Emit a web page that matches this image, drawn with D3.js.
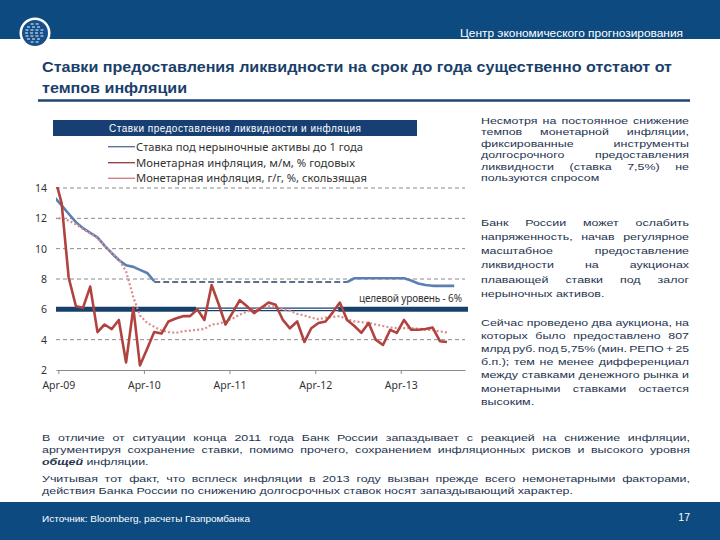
<!DOCTYPE html>
<html>
<head>
<meta charset="utf-8">
<script src="https://cdn.jsdelivr.net/npm/d3@7"></script>
<style>
html, body { margin: 0; padding: 0; background: #fff; }
svg { display: block; }
.body-text { font-family: "Liberation Sans", Arial, sans-serif; font-size: 11px; fill: #25344f; }
.chart-text { font-family: "Noto Sans", "Open Sans", sans-serif; fill: #333; }
</style>
</head>
<body>
<svg id="slide" width="720" height="540"></svg>
<script>
// месяцы данных (значение месяца ставится на середину месяца)
const firstMonth = new Date(2009, 2, 1);   // март 2009
const lastMonth = new Date(2013, 10, 1);   // ноябрь 2013
const months = d3.timeMonth.range(firstMonth, d3.timeMonth.offset(lastMonth, 1));

const tickDates = [new Date(2009, 3, 1), new Date(2010, 3, 1), new Date(2011, 3, 1), new Date(2012, 3, 1), new Date(2013, 3, 1)];
const tickLabels = ["Apr-09", "Apr-10", "Apr-11", "Apr-12", "Apr-13"];
const yTicks = [2, 4, 6, 8, 10, 12, 14];

// ставка под нерыночные активы до 1 года (сплошная часть)
const rateSolid = [13.4, 12.85, 12.3, 11.75, 11.35, 11.05, 10.75, 10.2, 9.7, 9.25, 8.9, 8.8, 8.6, 8.4, 7.85,
  null, null, null, null, null, null, null, null, null, null, null, null, null,
  null, null, null, null, null, null, null, null, null, null, null, null, null,
  7.8, 8.05, 8.05, 8.05, 8.05, 8.05, 8.05, 8.05, 8.05, 7.9, 7.7, 7.6, 7.55, 7.55, 7.55, 7.55];
// та же ставка в период без аукционов (пунктир)
const rateDashed = [null, null, null, null, null, null, null, null, null, null, null, null, null, null,
  7.8, 7.8, 7.8, 7.8, 7.8, 7.8, 7.8, 7.8, 7.8, 7.8, 7.8, 7.8, 7.8, 7.8,
  7.8, 7.8, 7.8, 7.8, 7.8, 7.8, 7.8, 7.8, 7.8, 7.8, 7.8, 7.8, 7.8, 7.8,
  null, null, null, null, null, null, null, null, null, null, null, null, null, null, null];
// монетарная инфляция, м/м, % годовых
const inflMoM = [14.8, 13.0, 8.1, 6.2, 6.1, 7.5, 4.5, 5.0, 4.7, 5.3, 2.5, 6.1, 2.3, 3.4, 4.5, 4.4, 5.2, 5.4, 5.55, 5.55,
  6.0, 5.3, 7.6, 6.3, 5.0, 5.8, 6.6, 6.2, 5.75, 6.1, 6.45, 6.3, 5.3, 4.75, 5.2, 3.85, 4.75, 5.1, 5.2, 5.8,
  6.45, 5.3, 4.9, 4.45, 5.1, 4.0, 3.65, 4.65, 4.45, 5.3, 4.65, 4.65, 4.7, 4.8, 3.9, 3.85, null];
// монетарная инфляция, г/г, %, скользящая
const inflYoY = [12.0, 12.0, 11.85, 11.6, 11.3, 11.0, 10.7, 10.2, 9.7, 9.3, 8.5, 6.8, 5.6, 5.1, 4.85, 4.6, 4.5, 4.45, 4.55, 4.6,
  4.65, 4.7, 5.0, 5.05, 5.2, 5.4, 5.65, 5.85, 6.0, 6.1, 6.2, 6.15, 6.0, 5.9, 5.7, 5.6, 5.45, 5.35, 5.45, 5.5,
  5.55, 5.35, 5.2, 5.15, 5.1, 5.0, 4.9, 4.8, 4.77, 4.76, 4.76, 4.72, 4.67, 4.62, 4.55, 4.47, null];

// целевой уровень
const targetLevel = 6;
const targetHollow = [new Date(2010, 10, 10), new Date(2012, 6, 8)];

const legendNames = [
  "Ставка под нерыночные активы до 1 года",
  "Монетарная инфляция, м/м, % годовых",
  "Монетарная инфляция, г/г, %, скользящая"
];

const titleLines = [
  "Ставки предоставления ликвидности на срок до года существенно отстают от",
  "темпов инфляции"
];

const sideParagraphs = [
  ["Несмотря на постоянное снижение", "темпов монетарной инфляции,", "фиксированные инструменты",
   "долгосрочного предоставления", "ликвидности (ставка 7,5%) не", "пользуются спросом"],
  ["Банк России может ослабить", "напряженность, начав регулярное", "масштабное предоставление",
   "ликвидности на аукционах", "плавающей ставки под залог", "нерыночных активов."],
  ["Сейчас проведено два аукциона, на", "которых было предоставлено 807", "млрд руб. под 5,75% (мин. РЕПО + 25",
   "б.п.); тем не менее дифференциал", "между ставками денежного рынка и", "монетарными ставками остается", "высоким."]
];

const bottomParagraphs = [
  ["В отличие от ситуации конца 2011 года Банк России запаздывает с реакцией на снижение инфляции,",
   "аргументируя сохранение ставки, помимо прочего, сохранением инфляционных рисков и высокого уровня",
   "*общей* инфляции."],
  ["Учитывая тот факт, что всплеск инфляции в 2013 году вызван прежде всего немонетарными факторами,",
   "действия Банка России по снижению долгосрочных ставок носят запаздывающий характер."]
];

const navy = "#0c4a80";
const svg = d3.select("#slide");

// ---------- шапка и подвал ----------
svg.append("rect").attr("x", 0).attr("y", 0).attr("width", 720).attr("height", 39).attr("fill", navy);
svg.append("rect").attr("x", 0).attr("y", 502).attr("width", 720).attr("height", 38).attr("fill", navy);

// логотип
const logo = svg.append("g").attr("transform", "translate(35,33)");
logo.append("circle").attr("r", 15.5).attr("fill", "#fff");
logo.append("circle").attr("r", 13).attr("fill", "#15508a");
d3.range(-9, 10, 3).forEach(dy => {
  const half = Math.sqrt(Math.max(0, 100 - dy * dy));
  for (let x = -half; x < half - 2; x += 5) {
    logo.append("line").attr("x1", x).attr("x2", x + 3).attr("y1", dy).attr("y2", dy)
      .attr("stroke", "#dfe8f2").attr("stroke-width", 1.1);
  }
});

svg.append("text").attr("x", 683).attr("y", 37).attr("text-anchor", "end")
  .attr("fill", "#fff").attr("font-family", "Liberation Sans, Arial, sans-serif").attr("font-size", 11)
  .attr("textLength", 223).attr("lengthAdjust", "spacingAndGlyphs")
  .text("Центр экономического прогнозирования");

svg.append("text").attr("x", 42).attr("y", 522)
  .attr("fill", "#fff").attr("font-family", "Liberation Sans, Arial, sans-serif").attr("font-size", 9)
  .attr("textLength", 208).attr("lengthAdjust", "spacingAndGlyphs")
  .text("Источник: Bloomberg, расчеты Газпромбанка");
svg.append("text").attr("x", 690).attr("y", 521).attr("text-anchor", "end")
  .attr("fill", "#fff").attr("font-family", "Liberation Sans, Arial, sans-serif").attr("font-size", 10.5)
  .text("17");

// ---------- заголовок ----------
const titleNodes = titleLines.map((t, i) => svg.append("text")
  .attr("x", 42).attr("y", 72 + i * 21)
  .attr("fill", "#1b3f6b").attr("font-family", "Liberation Sans, Arial, sans-serif")
  .attr("font-size", 15).attr("font-weight", "bold").text(t));
const titleRatio = 630 / titleNodes[0].node().getComputedTextLength();
titleNodes.forEach(n => n.attr("textLength", n.node().getComputedTextLength() * titleRatio)
  .attr("lengthAdjust", "spacingAndGlyphs"));
svg.append("line").attr("x1", 38).attr("x2", 690).attr("y1", 100.5).attr("y2", 100.5)
  .attr("stroke", "#1d4572").attr("stroke-width", 2.5);

// ---------- выровненный по ширине текст ----------
// строки чуть сжаты по вертикали, как на слайде
const sx = 1.13, sy = 0.9;
function drawLines(lines, x0, x1, y0, lh) {
  lines.forEach((line, li) => {
    const y = y0 + li * lh;
    const last = li === lines.length - 1;
    const words = line.split(" ");
    const row = svg.append("g").attr("transform", `translate(${x0},${y}) scale(${sx},${sy})`);
    const nodes = words.map(w => {
      const emph = w.startsWith("*");
      return row.append("text").attr("class", "body-text").attr("y", 0)
        .attr("font-weight", emph ? "bold" : null)
        .attr("font-style", emph ? "italic" : null)
        .text(w.replace(/\*/g, ""));
    });
    const widths = nodes.map(n => n.node().getComputedTextLength());
    const total = d3.sum(widths);
    const avail = (x1 - x0) / sx;
    const space = 3.0;
    let gap = last ? space : (avail - total) / (words.length - 1);
    let scale = 1;
    if (!last && gap < 2) {
      gap = 2;
      scale = (avail - gap * (words.length - 1)) / total;
    }
    let x = 0;
    nodes.forEach((n, i) => {
      n.attr("x", x);
      if (scale !== 1) n.attr("textLength", widths[i] * scale).attr("lengthAdjust", "spacingAndGlyphs");
      x += widths[i] * scale + gap;
    });
  });
}

drawLines(sideParagraphs[0], 481, 689, 124, 11.4);
drawLines(sideParagraphs[1], 481, 689, 225.5, 14.3);
drawLines(sideParagraphs[2], 481, 689, 325.5, 13.2);
drawLines(bottomParagraphs[0], 42, 690, 441, 12);
drawLines(bottomParagraphs[1], 42, 690, 482, 12);

// ---------- график ----------
const plot = { left: 56, right: 465, top: 188, bottom: 370 };

const x = d3.scaleTime()
  .domain([new Date(2009, 2, 22), new Date(2013, 11, 31)])
  .range([plot.left, plot.right]);
const y = d3.scaleLinear().domain([2, 14]).range([plot.bottom, plot.top]);
const mid = m => d3.timeDay.offset(m, 14);

svg.append("defs").append("clipPath").attr("id", "plotClip")
  .append("rect").attr("x", plot.left).attr("y", plot.top - 1)
  .attr("width", plot.right - plot.left + 4).attr("height", plot.bottom - plot.top + 1);

// заголовок графика
svg.append("rect").attr("x", 53).attr("y", 120).attr("width", 364).attr("height", 16).attr("fill", "#173f73");
svg.append("text").attr("x", 235).attr("y", 131.5).attr("text-anchor", "middle")
  .attr("fill", "#fff").attr("font-family", "Liberation Sans, Arial, sans-serif").attr("font-size", 10)
  .attr("textLength", 252).attr("lengthAdjust", "spacing")
  .text("Ставки предоставления ликвидности и инфляция");

// сетка
svg.append("g").selectAll("line").data(yTicks.filter(v => v > 2 && v !== targetLevel)).join("line")
  .attr("x1", plot.left).attr("x2", plot.right)
  .attr("y1", d => y(d)).attr("y2", d => y(d))
  .attr("stroke", "#8a8a8a").attr("stroke-width", 1).attr("stroke-dasharray", "4,3");

// ось X
const xAxis = svg.append("g").attr("transform", `translate(0,${plot.bottom})`)
  .call(d3.axisBottom(x).tickValues(tickDates).tickFormat((d, i) => tickLabels[i]).tickSize(4).tickSizeOuter(0));
xAxis.select(".domain").attr("stroke", "#8a8a8a");
xAxis.selectAll(".tick line").attr("stroke", "#8a8a8a");
xAxis.selectAll("text").attr("class", "chart-text").attr("font-size", 10.5).attr("dy", "1.1em").attr("fill", "#222");

// ось Y (только подписи)
const yAxis = svg.append("g").attr("transform", `translate(${plot.left - 9},0)`)
  .call(d3.axisLeft(y).tickValues(yTicks).tickSize(0).tickPadding(0));
yAxis.select(".domain").remove();
yAxis.selectAll("text").attr("class", "chart-text").attr("font-size", 10.5).attr("fill", "#222");

// целевой уровень 6%
const tg = svg.append("g");
tg.append("line").attr("x1", plot.left).attr("x2", x(targetHollow[0]))
  .attr("y1", y(targetLevel)).attr("y2", y(targetLevel))
  .attr("stroke", "#17416d").attr("stroke-width", 5);
tg.append("line").attr("x1", x(targetHollow[0])).attr("x2", x(targetHollow[1]))
  .attr("y1", y(targetLevel)).attr("y2", y(targetLevel))
  .attr("stroke", "#17416d").attr("stroke-width", 3.6);
tg.append("line").attr("x1", x(targetHollow[0])).attr("x2", x(targetHollow[1]))
  .attr("y1", y(targetLevel)).attr("y2", y(targetLevel))
  .attr("stroke", "#fff").attr("stroke-width", 1.4);
tg.append("line").attr("x1", x(targetHollow[1])).attr("x2", plot.right + 3)
  .attr("y1", y(targetLevel)).attr("y2", y(targetLevel))
  .attr("stroke", "#17416d").attr("stroke-width", 5);
svg.append("text").attr("class", "chart-text").attr("x", 462).attr("y", 301.5).attr("text-anchor", "end")
  .attr("font-size", 10).attr("fill", "#1b3f66")
  .attr("textLength", 103).attr("lengthAdjust", "spacing")
  .text("целевой уровень - 6%");

// линии рядов
const series = svg.append("g").attr("clip-path", "url(#plotClip)");
const lineOf = vals => d3.line()
  .defined((d, i) => vals[i] != null)
  .x(d => x(mid(d)))
  .y((d, i) => y(vals[i]))(months);

series.append("path").attr("d", lineOf(rateDashed)).attr("fill", "none")
  .attr("stroke", "#5c7189").attr("stroke-width", 2).attr("stroke-dasharray", "6,3");
series.append("path").attr("d", lineOf(rateSolid)).attr("fill", "none")
  .attr("stroke", "#5a7fb2").attr("stroke-width", 2.6).attr("stroke-linejoin", "round");
series.append("path").attr("d", lineOf(inflYoY)).attr("fill", "none")
  .attr("stroke", "#dc8a8a").attr("stroke-width", 2.2).attr("stroke-dasharray", "2,2.2");
series.append("path").attr("d", lineOf(inflMoM)).attr("fill", "none")
  .attr("stroke", "#b0423f").attr("stroke-width", 2.6).attr("stroke-linejoin", "round");

// легенда
const legendColors = ["#4f6d93", "#953735", "#d27a78"];
const legendRows = [146.7, 162.7, 178.3];
const lg = svg.append("g");
legendNames.forEach((name, i) => {
  lg.append("line").attr("x1", 108).attr("x2", 135).attr("y1", legendRows[i]).attr("y2", legendRows[i])
    .attr("stroke", legendColors[i]).attr("stroke-width", 1.3);
  lg.append("text").attr("class", "chart-text").attr("x", 136).attr("y", legendRows[i] + 4)
    .attr("font-size", 11).attr("fill", "#222")
    .attr("textLength", [227, 219, 231][i]).attr("lengthAdjust", "spacingAndGlyphs")
    .text(name);
});
</script>
</body>
</html>
